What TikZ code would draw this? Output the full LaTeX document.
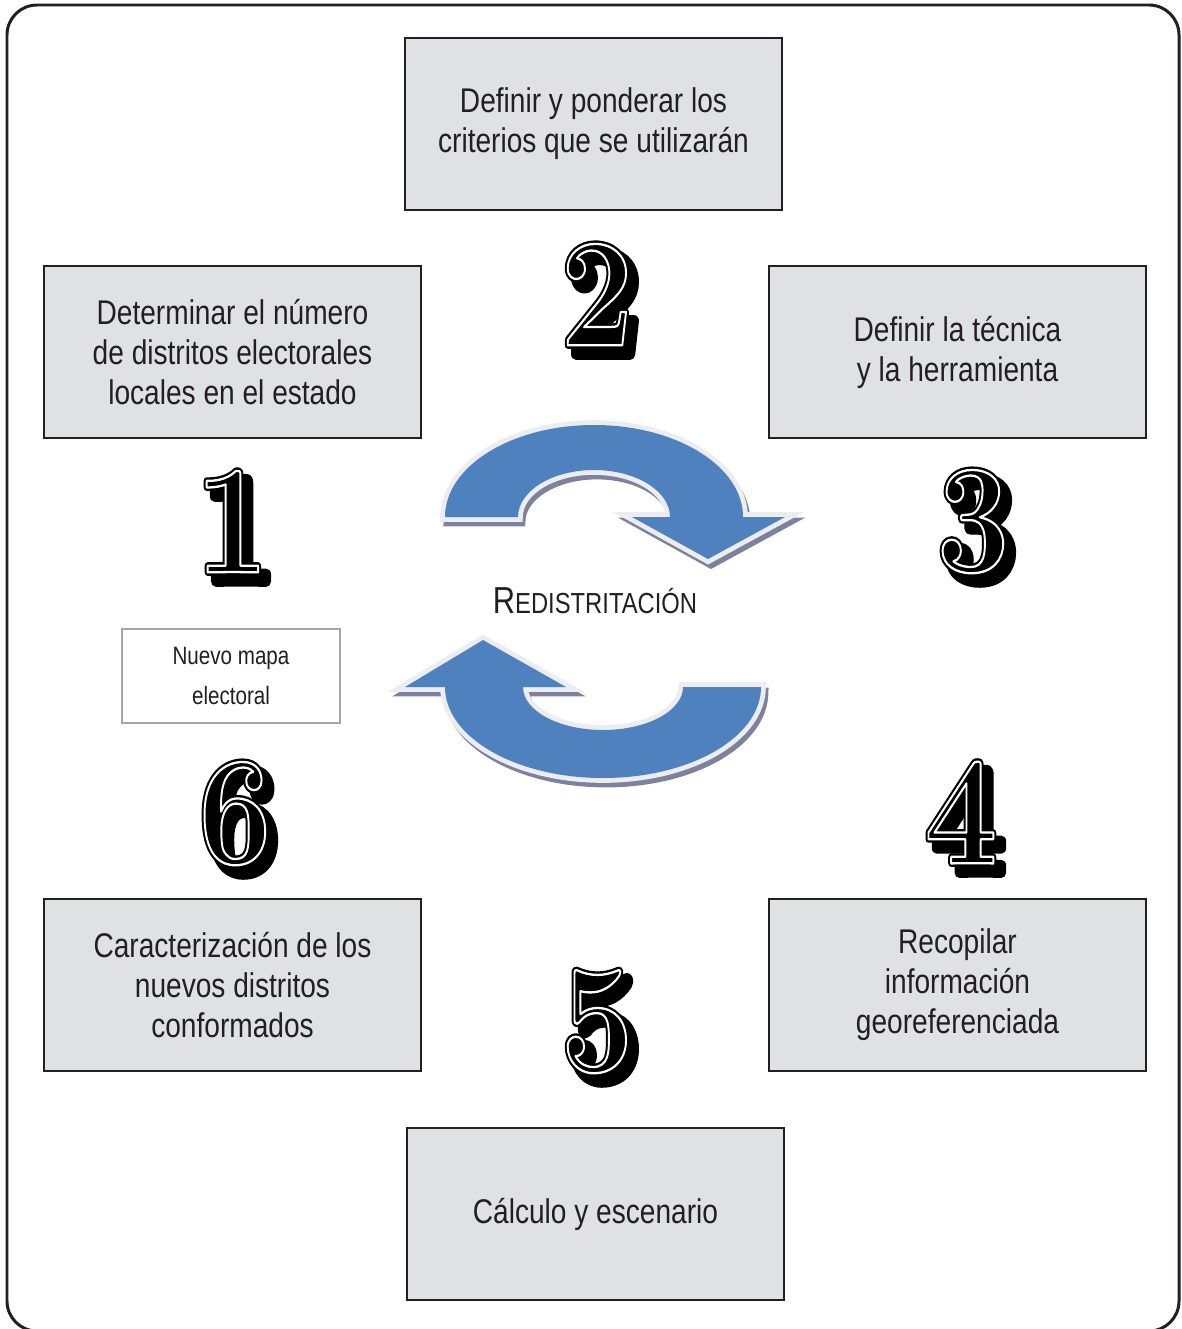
\documentclass[tikz,border=0pt]{standalone}
\usepackage{fontspec}
\setmainfont{Liberation Sans}[FakeStretch=0.82]

\definecolor{boxgray}{RGB}{224,225,227}
\definecolor{arrowblue}{RGB}{79,129,191}
\definecolor{rimgray}{RGB}{236,237,240}
\definecolor{shadowblue}{RGB}{125,129,158}
\definecolor{inkcol}{RGB}{35,31,32}

% glyphs drawn with render mode #1, colour operators #2, stroke width #3
\newcommand{\strokedtext}[4]{\special{pdf:code #2 #1 Tr #3 w 1 j}#4\special{pdf:code 0 Tr}}
% number: fat black shadow, black face, white inline
\newcommand{\stepdigit}[1]{\scalebox{0.84}[1]{%
  \rlap{\kern 5.5pt\raisebox{-5pt}{\strokedtext{2}{0 g 0 G}{6.5}{#1}}}%
  \rlap{\strokedtext{2}{0 g 0 G}{4}{#1}}%
  \strokedtext{1}{1 G}{1.3}{#1}}}

\tikzset{
  stepbox/.style={draw=inkcol, fill=boxgray, line width=0.9pt, minimum width=7.54cm, minimum height=3.44cm,
    align=center, text=inkcol, font=\fontsize{19.5}{22.7}\selectfont},
  mapbox/.style={draw=gray!70, fill=white, line width=0.6pt, minimum width=4.36cm, minimum height=1.88cm,
    align=center, text=inkcol, font=\fontsize{14.3}{22.7}\selectfont},
  digit/.style={inner sep=0pt, text=black, font=\fontfamily{lmr}\fontseries{bx}\fontsize{88}{88}\selectfont},
}

\begin{document}
\begin{tikzpicture}[x=0.02cm, y=-0.02cm]
  \useasboundingbox (0,0) rectangle (1181,1329);
  % outer frame
  \draw[inkcol, line width=1.7pt, rounded corners=0.6cm] (7,5) rectangle (1179,1331);

  % the six steps
  \node[stepbox] (b2) at (593.5,124) {Definir y ponderar los\\criterios que se utilizarán};
  \node[stepbox] (b1) at (232.5,352) {Determinar el número\\de distritos electorales\\locales en el estado};
  \node[stepbox] (b3) at (957.5,352) {Definir la técnica\\y la herramienta};
  \node[stepbox] (b4) at (957.5,985) {Recopilar\\información\\georeferenciada};
  \node[stepbox] (b6) at (232.5,985) {Caracterización de los\\nuevos distritos\\conformados};
  \node[stepbox] (b5) at (595.5,1214) {Cálculo y escenario};
  \node[mapbox] (map) at (231,676) {Nuevo mapa\\electoral};

  % cycle arrows
  \foreach \layer in {0,1,2} {
    \ifnum\layer=0 \tikzset{arrowlayer/.style={fill=shadowblue, draw=shadowblue, line width=5pt, shift={(3,5)}}}\fi
    \ifnum\layer=1 \tikzset{arrowlayer/.style={fill=rimgray, draw=rimgray, line width=5.5pt}}\fi
    \ifnum\layer=2 \tikzset{arrowlayer/.style={fill=arrowblue}}\fi
    \path[arrowlayer] (518,517) -- (445,517)
      arc[start angle=180, end angle=360, x radius=149, y radius=92]
      -- (785,517) -- (708,559) -- (632,517) -- (670,517)
      arc[start angle=360, end angle=180, x radius=76, y radius=47] -- cycle;
    \path[arrowlayer] (761,687)
      arc[start angle=0, end angle=180, x radius=158, y radius=91]
      -- (405,687) -- (483,640) -- (566,687) -- (523,687)
      arc[start angle=180, end angle=0, x radius=80, y radius=43] -- cycle;
  }

  \node[text=inkcol] (title) at (595,601)
    {{\fontsize{21.4}{24}\selectfont R}{\fontsize{16.5}{20}\selectfont EDISTRITACIÓN}};

  % step numbers
  \foreach \n/\px/\py in {1/232/526, 2/597/299, 3/973/526, 4/961/817, 5/597/1026, 6/235/818}
    \node[digit] (n\n) at (\px,\py) {\stepdigit{\n}};
\end{tikzpicture}
\end{document}
